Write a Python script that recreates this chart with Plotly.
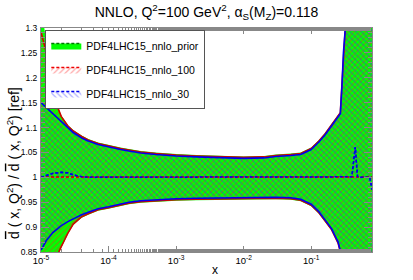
import plotly.graph_objects as go

# ---- data ----
x = [1e-5, 1.2e-5, 1.5e-5, 2e-5, 2.5e-5, 3e-5, 4e-5, 5e-5, 7e-5, 1e-4,
     1.5e-4, 2e-4, 3e-4, 5e-4, 7e-4, 1e-3, 2e-3, 5e-3, 1e-2, 2e-2,
     3e-2, 5e-2, 7e-2, 0.1, 0.13, 0.16, 0.2, 0.25, 0.27, 0.285,
     0.3, 0.32, 0.36, 0.4, 0.449, 0.485, 0.55, 0.65, 0.735, 0.8]

prior_up = [1.34, 1.275, 1.168, 1.124, 1.105, 1.095, 1.084, 1.077, 1.070, 1.065,
            1.060, 1.057, 1.053, 1.050, 1.048, 1.047, 1.045, 1.043, 1.042, 1.043,
            1.046, 1.048, 1.050, 1.060, 1.075, 1.089, 1.107, 1.125, 1.132, 1.19,
            1.26, 1.32, 1.42, 1.52, 1.62, 1.72, 1.87, 2.02, 2.12, 2.22]
prior_lo = [0.70, 0.75, 0.823, 0.859, 0.886, 0.904, 0.919, 0.925, 0.933, 0.937,
            0.943, 0.946, 0.949, 0.951, 0.952, 0.953, 0.954, 0.955, 0.955, 0.956,
            0.956, 0.955, 0.952, 0.942, 0.927, 0.911, 0.893, 0.866, 0.848, 0.825,
            0.78, 0.73, 0.68, 0.63, 0.58, 0.53, 0.48, 0.43, 0.38, 0.33]
prior_c = [1.0] * 40

r100_up = [1.292, 1.25, 1.165, 1.122, 1.103, 1.093, 1.082, 1.075, 1.068, 1.063,
           1.058, 1.055, 1.051, 1.048, 1.046, 1.045, 1.043, 1.041, 1.040, 1.041,
           1.044, 1.046, 1.048, 1.058, 1.073, 1.087, 1.105, 1.123, 1.130, 1.186,
           1.255, 1.31, 1.41, 1.51, 1.61, 1.71, 1.86, 2.01, 2.11, 2.21]
r100_lo = [0.72, 0.77, 0.825, 0.861, 0.888, 0.906, 0.921, 0.927, 0.935, 0.939,
           0.945, 0.948, 0.951, 0.953, 0.954, 0.955, 0.956, 0.957, 0.957, 0.958,
           0.958, 0.957, 0.954, 0.944, 0.929, 0.913, 0.895, 0.868, 0.850, 0.827,
           0.79, 0.74, 0.69, 0.64, 0.59, 0.54, 0.49, 0.44, 0.39, 0.34]
r100_c = [1.0] * 40

r30_up = [1.150, 1.140, 1.127, 1.112, 1.100, 1.090, 1.079, 1.073, 1.066, 1.061,
          1.056, 1.053, 1.049, 1.046, 1.044, 1.043, 1.041, 1.039, 1.038, 1.039,
          1.042, 1.044, 1.046, 1.056, 1.071, 1.085, 1.103, 1.121, 1.128, 1.183,
          1.25, 1.30, 1.40, 1.50, 1.60, 1.70, 1.85, 2.00, 2.10, 2.20]
r30_lo = [0.854, 0.873, 0.889, 0.903, 0.911, 0.917, 0.925, 0.930, 0.937, 0.941,
          0.947, 0.950, 0.953, 0.955, 0.956, 0.957, 0.958, 0.959, 0.959, 0.960,
          0.960, 0.959, 0.956, 0.946, 0.931, 0.915, 0.897, 0.870, 0.852, 0.830,
          0.80, 0.75, 0.70, 0.65, 0.60, 0.55, 0.50, 0.45, 0.40, 0.35]
r30_c = [1.0, 1.004, 1.008, 1.010, 1.009, 1.005, 1.001, 1.0, 1.0, 1.0,
         1.0, 1.0, 1.0, 1.0, 1.0, 1.0, 1.0, 1.0, 1.0, 1.0,
         1.0, 1.0, 1.0, 1.0, 1.0, 1.0, 1.0, 1.0, 1.0, 1.0,
         1.0, 1.0, 1.0, 1.001, 1.061, 1.001, 1.0, 1.0, 1.0, 0.975]

names = ["PDF4LHC15_nnlo_prior", "PDF4LHC15_nnlo_100", "PDF4LHC15_nnlo_30"]

x_tickvals = [1e-5, 1e-4, 1e-3, 1e-2, 1e-1]
x_ticktext = ["10<sup>-5</sup>", "10<sup>-4</sup>", "10<sup>-3</sup>",
              "10<sup>-2</sup>", "10<sup>-1</sup>"]
y_tickvals = [0.85, 0.9, 0.95, 1.0, 1.05, 1.1, 1.15, 1.2, 1.25, 1.3]
y_ticktext = ["0.85", "0.9", "0.95", "1", "1.05", "1.1", "1.15", "1.2", "1.25", "1.3"]

FONT = "Liberation Sans, Arial, sans-serif"
fig = go.Figure()

sets = [
    dict(name=names[0], up=prior_up, lo=prior_lo, c=prior_c,
         edge="rgba(0,0,0,0)", edgew=0, cline="#007700",
         fillcolor="#00ff00", pattern=None),
    dict(name=names[1], up=r100_up, lo=r100_lo, c=r100_c,
         edge="#d00000", edgew=1.6, cline="#ee0000",
         fillcolor="rgba(0,0,0,0)",
         pattern=dict(shape="/", fgcolor="#ff2020", bgcolor="rgba(0,0,0,0)",
                      size=4, solidity=0.25, fillmode="overlay")),
    dict(name=names[2], up=r30_up, lo=r30_lo, c=r30_c,
         edge="#0000ee", edgew=1.6, cline="#0000ee",
         fillcolor="rgba(0,0,0,0)",
         pattern=dict(shape="\\", fgcolor="#3030ff", bgcolor="rgba(0,0,0,0)",
                      size=4, solidity=0.25, fillmode="overlay")),
]

for s in sets:
    fig.add_trace(go.Scatter(x=x, y=s["lo"], mode="lines",
                             line=dict(color=s["edge"], width=s["edgew"]),
                             showlegend=False, legendgroup=s["name"],
                             hoverinfo="skip"))
    kw = dict(fill="tonexty", fillcolor=s["fillcolor"])
    if s["pattern"]:
        kw["fillpattern"] = s["pattern"]
    fig.add_trace(go.Scatter(x=x, y=s["c"], mode="lines", name=s["name"],
                             line=dict(color=s["cline"], width=1.5, dash="3px,2px"),
                             legendgroup=s["name"], **kw))
    kw2 = dict(fill="tonexty", fillcolor=s["fillcolor"])
    if s["pattern"]:
        kw2["fillpattern"] = s["pattern"]
    fig.add_trace(go.Scatter(x=x, y=s["up"], mode="lines",
                             line=dict(color=s["edge"], width=s["edgew"]),
                             showlegend=False, legendgroup=s["name"], **kw2))

# redraw central dashed lines on top
for s in sets:
    fig.add_trace(go.Scatter(x=x, y=s["c"], mode="lines",
                             line=dict(color=s["cline"], width=1.5, dash="3px,2px"),
                             showlegend=False, hoverinfo="skip"))

axis_common = dict(showgrid=False, zeroline=False, showline=True,
                   linecolor="#888888", linewidth=1, mirror="ticks",
                   ticks="inside", tickcolor="#888888", automargin=False)

fig.update_xaxes(type="log", range=[-5, -0.1], tickvals=x_tickvals,
                 ticktext=x_ticktext, ticklen=6,
                 tickfont=dict(family=FONT, size=9.5, color="black"),
                 minor=dict(ticks="inside", ticklen=3, tickcolor="#888888",
                            showgrid=False),
                 **axis_common)
fig.update_yaxes(range=[0.85, 1.3], tickvals=y_tickvals, ticktext=y_ticktext,
                 ticklen=8, ticklabelstandoff=1,
                 tickfont=dict(family=FONT, size=8.5, color="black"),
                 minor=dict(ticks="inside", ticklen=4, dtick=0.01,
                            tickcolor="#888888", showgrid=False),
                 **axis_common)

fig.update_layout(
    width=413, height=280,
    margin=dict(l=41, r=41, t=28, b=28, pad=0),
    paper_bgcolor="white", plot_bgcolor="white",
    font=dict(family=FONT, color="black"),
    title=dict(text="NNLO, Q<sup>2</sup>=100 GeV<sup>2</sup>, α<sub>S</sub>(M<sub>Z</sub>)=0.118",
               x=0.5, xref="paper", xanchor="center",
               y=1 - 12 / 280, yref="container", yanchor="middle",
               font=dict(family=FONT, size=14, color="black")),
    legend=dict(x=0.013, y=0.991, xanchor="left", yanchor="top",
                bgcolor="white", bordercolor="#555555", borderwidth=1,
                font=dict(family=FONT, size=10.5, color="black"),
                traceorder="grouped", tracegroupgap=5, itemwidth=30),
    annotations=[
        dict(text="x", xref="paper", yref="paper",
             x=(215 - 41) / 331, y=-(270 - 252) / 224, showarrow=False,
             font=dict(family=FONT, size=12, color="black"),
             xanchor="center", yanchor="middle"),
        dict(text="<span style=\"text-decoration:overline\">d</span>\u00a0(\u00a0x,\u00a0Q<sup>2</sup>)\u00a0/\u00a0"
                  "<span style=\"text-decoration:overline\">d</span>\u00a0(\u00a0x,\u00a0Q<sup>2</sup>)\u00a0[ref]",
             xref="paper", yref="paper", textangle=-90,
             x=-(41 - 13) / 331, y=(252 - 163) / 224, showarrow=False,
             font=dict(family=FONT, size=14, color="black"),
             xanchor="center", yanchor="middle"),
    ],
)

fig.write_html("out.html", config={"displayModeBar": False},
               post_script="document.body.style.margin='0px';"
                           "document.body.style.overflow='hidden';")
